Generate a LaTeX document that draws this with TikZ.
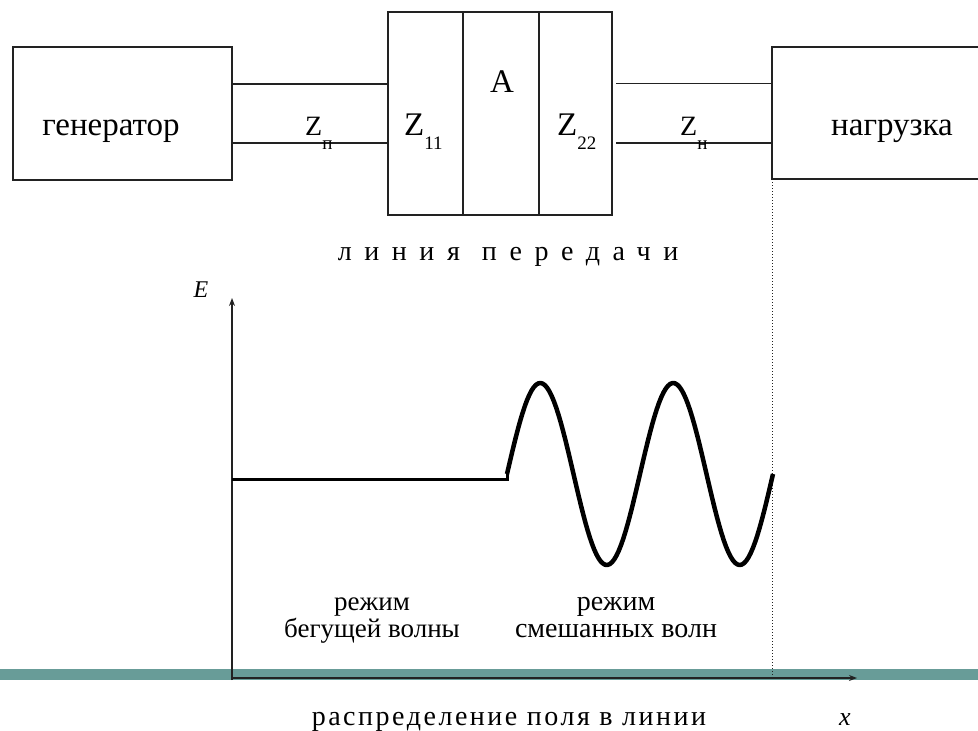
\documentclass[tikz,border=0pt]{standalone}
\usepackage{fontspec}
\setmainfont{Liberation Serif}
\usepackage{tikz}
\usetikzlibrary{arrows.meta,positioning}
\definecolor{BandTeal}{HTML}{689C98}
\definecolor{LineGray}{HTML}{222222}
\newcommand{\Zind}[1]{Z\raisebox{-14pt}{\fontsize{19}{19}\selectfont #1}}

\begin{document}
\begin{tikzpicture}[x=1pt,y=-1pt,>=Stealth,
  box/.style={draw=LineGray,line width=1.6pt,inner sep=0pt,outer sep=0pt},
  wire/.style={LineGray,line width=1.3pt},
  lbl/.style={font=\fontsize{33}{36}\selectfont,inner sep=0pt,anchor=base},
  note/.style={font=\fontsize{28}{27}\selectfont,inner sep=0pt,anchor=base,align=center}]
  \useasboundingbox (0,0) rectangle (978,731);
  \clip (0,0) rectangle (978,731);
  \fill[BandTeal] (0,669) rectangle (978,680);
  \node[box,minimum width=219pt,minimum height=133pt] (gen) at (122.5,113.5) {};
  \node[box,minimum width=75pt,minimum height=203pt] (zin) at (425.5,113.5) {};
  \node[box,minimum width=76pt,minimum height=203pt,right=0pt of zin] (quad) {};
  \node[box,minimum width=73pt,minimum height=203pt,right=0pt of quad] (zout) {};
  \node[box,minimum width=230pt,minimum height=132pt,anchor=north west] (load) at (772,47) {};
  \draw[wire] ([yshift=29.5pt]gen.east) -- ([yshift=29.5pt]zin.west);
  \draw[wire] ([yshift=-29.5pt]gen.east) -- ([yshift=-29.5pt]zin.west);
  \draw[wire,shorten <=4pt] ([yshift=30pt]zout.east) -- ([yshift=30pt]zout.east -| load.west);
  \draw[wire,shorten <=4pt] ([yshift=-29.5pt]zout.east) -- ([yshift=-29.5pt]zout.east -| load.west);
  \node[lbl] (gentxt) at (111,135) {генератор};
  \node[lbl] (loadtxt) at (892,135) {нагрузка};
  \node[lbl] (atxt) at (502,92) {A};
  \node[lbl,anchor=base west] (z11) at (404,135) {\Zind{11}};
  \node[lbl,anchor=base west] (z22) at (557,135) {\Zind{22}};
  \node[lbl,anchor=base west,font=\fontsize{28}{30}\selectfont] (zl) at (305,135) {\Zind{п}};
  \node[lbl,anchor=base west,font=\fontsize{28}{30}\selectfont] (zn) at (680,135) {\Zind{н}};
  \node[note,font=\fontsize{28}{30}\selectfont\addfontfeature{LetterSpace=45}] (linecap) at (508,260) {линия\hspace{22pt}передачи};
  \coordinate (orig) at (232,678);
  \coordinate (etop) at (232,298);
  \coordinate (xend) at (857,678);
  \draw[LineGray,line width=1.3pt,-{Stealth[length=8pt,width=6pt]}] ([yshift=-2pt]orig) -- (etop);
  \draw[LineGray,line width=1.3pt,-{Stealth[length=8pt,width=6pt]}] (orig) -- (xend);
  \draw[LineGray,dotted,line width=1pt] (load.south west) -- (load.south west |- orig);
  \node[font=\itshape\fontsize{24}{24}\selectfont,inner sep=0pt,anchor=base] (elbl) at (201,297) {E};
  \node[font=\itshape\fontsize{26}{26}\selectfont,inner sep=0pt,anchor=base] (xlbl) at (845,725) {x};
  \draw[line width=3pt] (orig |- 0,479) -- (507,479) -- (507,474);
  \draw[line width=4.5pt,line join=round] plot[domain=0:266,samples=120] (507+\x,{474-91*sin(\x/133*360)});
  \node[note,font=\fontsize{27}{27}\selectfont] (runwave) at (372,637) {режим\\бегущей волны};
  \node[note] (mixwave) at (616,637) {режим\\смешанных волн};
  \node[note,font=\fontsize{28}{30}\selectfont\addfontfeature{LetterSpace=9}] (fielddist) at (509,725) {распределение поля в линии};
\end{tikzpicture}
\end{document}
